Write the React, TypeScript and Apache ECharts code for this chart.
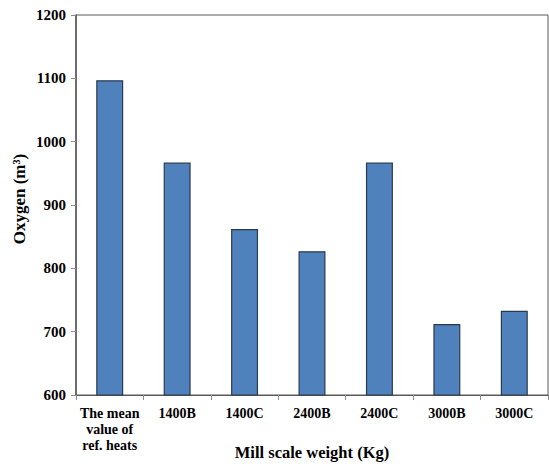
import React, { useEffect, useRef } from "react";
import * as echarts from "echarts";

const categories = ["The mean\nvalue of\nref. heats", "1400B", "1400C", "2400B", "2400C", "3000B", "3000C"];
const oxygen = [1097, 967, 862, 827, 967, 712, 733];
const yTicks = { min: 600, max: 1200, interval: 100 };

export default function App() {
  const ref = useRef<HTMLDivElement>(null);
  useEffect(() => {
    if (!ref.current) return;
    const chart = echarts.init(ref.current, undefined, { renderer: "svg" });
    const font = "'Liberation Serif', 'Times New Roman', serif";
    chart.setOption({
      animation: false,
      backgroundColor: "#ffffff",
      grid: {
        left: 76,
        right: 1,
        top: 15,
        bottom: 69,
        containLabel: false,
        outerBoundsMode: "none",
        show: true,
        borderColor: "#595959",
        borderWidth: 1,
        backgroundColor: "transparent",
      },
      xAxis: {
        type: "category",
        data: categories,
        name: "Mill scale weight (Kg)",
        nameLocation: "middle",
        nameGap: 49,
        nameMoveOverlap: false,
        nameTextStyle: { fontFamily: font, fontWeight: "bold", fontSize: 16.5, color: "#000" },
        axisLine: { lineStyle: { color: "#595959", width: 1 } },
        axisTick: { show: true, alignWithLabel: false, length: 5, lineStyle: { color: "#8c8c8c" } },
        axisLabel: {
          fontFamily: font,
          fontWeight: "bold",
          fontSize: 14,
          color: "#000",
          margin: 10,
          lineHeight: 16,
          interval: 0,
        },
      },
      yAxis: {
        type: "value",
        min: yTicks.min,
        max: yTicks.max,
        interval: yTicks.interval,
        name: "Oxygen (m³)",
        nameLocation: "middle",
        nameGap: 48,
        nameMoveOverlap: false,
        nameTextStyle: {
          fontFamily: font,
          fontWeight: "bold",
          fontSize: 17,
          color: "#000",
          padding: [0, 0, 0, 12],
        },
        axisLine: { show: true, lineStyle: { color: "#595959", width: 1.5 } },
        axisTick: { show: true, length: 5, lineStyle: { color: "#8c8c8c" } },
        splitLine: { show: false },
        axisLabel: {
          fontFamily: font,
          fontWeight: "bold",
          fontSize: 15,
          color: "#000",
          margin: 10,
          formatter: (v: number) => String(v),
        },
      },
      series: [
        {
          type: "bar",
          data: oxygen,
          barWidth: "40%",
          itemStyle: { color: "#4F81BD", borderColor: "#2b3a4d", borderWidth: 1.2 },
        },
      ],
    });
    return () => chart.dispose();
  }, []);
  return <div ref={ref} style={{ width: 549, height: 464, position: "absolute", left: 0, top: 0 }} />;
}
